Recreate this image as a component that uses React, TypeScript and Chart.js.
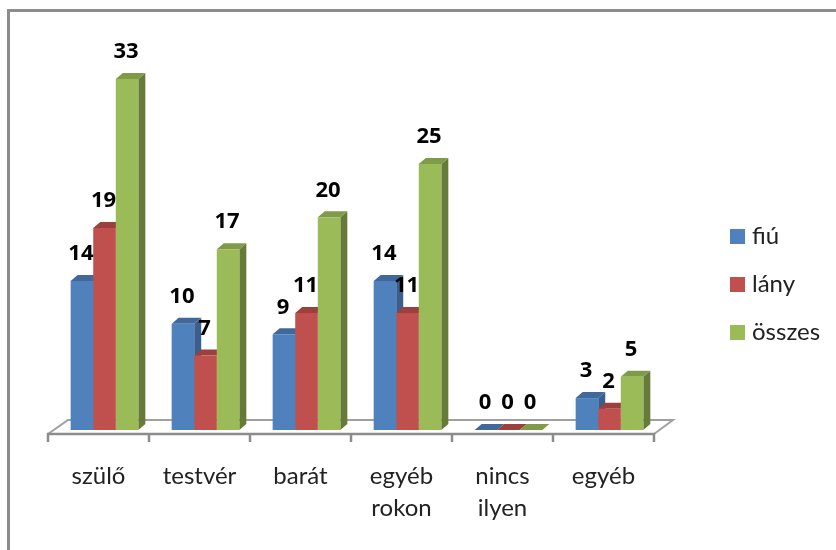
import React, { useEffect, useRef } from "react";
import { Chart, registerables } from "chart.js";

Chart.register(...registerables);

const categories: (string | string[])[] = ["szülő", "testvér", "barát", ["egyéb", "rokon"], ["nincs", "ilyen"], "egyéb"];
const fiu = [14, 10, 9, 14, 0, 3];
const lany = [19, 7, 11, 11, 0, 2];
const osszes = [33, 17, 20, 25, 0, 5];

const BLUE = ["#4F81BD", "#3A5F8C", "#41689A"];
const RED = ["#C0504D", "#8E3B39", "#9C403E"];
const GREEN = ["#9BBB59", "#667B3A", "#7F9A49"];
const palette = [BLUE, RED, GREEN];

const DX = 7;
const DY = 6;
const SHIFT = 6;

const poly = (ctx: CanvasRenderingContext2D, pts: number[][], fill: string) => {
  ctx.fillStyle = fill;
  ctx.beginPath();
  pts.forEach((p, i) => (i ? ctx.lineTo(p[0], p[1]) : ctx.moveTo(p[0], p[1])));
  ctx.closePath();
  ctx.fill();
};

const threeD = {
  id: "threeD",
  beforeDatasetsDraw(chart: any) {
    const { ctx, scales } = chart;
    const x = scales.x;
    const y0 = scales.y.getPixelForValue(0);
    const left = x.left - SHIFT;
    const right = x.right - SHIFT;
    ctx.save();
    ctx.strokeStyle = "#a0a0a0";
    ctx.lineWidth = 2;
    ctx.beginPath();
    ctx.moveTo(left, y0 + 4);
    ctx.lineTo(left + 20, y0 - 10);
    ctx.lineTo(right + 19, y0 - 10);
    ctx.lineTo(right, y0 + 4);
    ctx.stroke();
    ctx.strokeStyle = "#8c8c8c";
    ctx.lineWidth = 2.5;
    ctx.beginPath();
    ctx.moveTo(left - 1, y0 + 4);
    ctx.lineTo(right + 1, y0 + 4);
    for (let i = 0; i <= categories.length; i++) {
      const tx = left + (i * (right - left)) / categories.length;
      ctx.moveTo(tx, y0 + 3);
      ctx.lineTo(tx, y0 + 12);
    }
    ctx.stroke();
    // side and top faces, fiú first so later series overlap it; fronts are drawn by Chart.js
    chart.data.datasets.forEach((_: any, i: number) => {
      const colors = palette[i];
      chart.getDatasetMeta(i).data.forEach((bar: any) => {
        const { x: bx, y, base, width } = bar.getProps(["x", "y", "base", "width"], true);
        const l = bx - width / 2;
        const r = bx + width / 2;
        poly(ctx, [[r, y], [r + DX, y - DY], [r + DX, base - DY], [r, base]], colors[1]);
        poly(ctx, [[l, y], [l + DX, y - DY], [r + DX, y - DY], [r, y]], colors[2]);
      });
    });
    ctx.restore();
  },
  afterDatasetsDraw(chart: any) {
    const { ctx, chartArea } = chart;
    ctx.save();
    ctx.font = "bold 22px 'Open Sans'";
    ctx.fillStyle = "#000";
    ctx.textAlign = "center";
    ctx.textBaseline = "middle";
    chart.data.datasets.forEach((ds: any, i: number) => {
      chart.getDatasetMeta(i).data.forEach((bar: any, j: number) => {
        ctx.fillText(String(ds.data[j]), bar.x - 1, bar.y - 27);
      });
    });
    // legend
    ctx.font = "24px 'Lato'";
    ctx.textAlign = "left";
    const n = chart.data.datasets.length;
    const mid = chart.height / 2 + 9.5;
    chart.data.datasets.forEach((ds: any, i: number) => {
      const cy = mid + (i - (n - 1) / 2) * 48;
      const lx = chartArea.right + 70;
      ctx.fillStyle = ds.backgroundColor;
      ctx.fillRect(lx, cy - 7.5, 15, 15);
      ctx.fillStyle = "#222";
      ctx.fillText(ds.label, lx + 22, cy);
    });
    ctx.restore();
  },
};

export default function App() {
  const ref = useRef<HTMLCanvasElement>(null);
  useEffect(() => {
    document.body.style.margin = "0";
    const chart = new Chart(ref.current!, {
      type: "bar",
      plugins: [threeD],
      data: {
        labels: categories as any,
        datasets: [
          { label: "fiú", data: fiu, backgroundColor: BLUE[0] },
          { label: "lány", data: lany, backgroundColor: RED[0] },
          { label: "összes", data: osszes, backgroundColor: GREEN[0] },
        ],
      },
      options: {
        responsive: false,
        animation: false,
        layout: { padding: { left: 54, right: 176, top: 79, bottom: 0 } },
        datasets: { bar: { categoryPercentage: 0.67, barPercentage: 1 } },
        scales: {
          x: {
            grid: { display: false },
            border: { display: false },
            afterFit: (s: any) => {
              s.height = 120;
            },
            ticks: {
              labelOffset: -SHIFT,
              padding: 23,
              maxRotation: 0,
              autoSkip: false,
              color: "#222",
              font: { family: "Lato", size: 24, lineHeight: 1.3 },
            },
          },
          y: { display: false, min: 0, max: 33 },
        },
        plugins: {
          tooltip: { enabled: false },
          legend: { display: false },
        },
      },
    } as any);
    return () => chart.destroy();
  }, []);
  return (
    <div style={{ position: "relative", width: 836, height: 550, background: "#fff", overflow: "hidden" }}>
      <div style={{ position: "absolute", left: 7, top: 9, width: 840, height: 600, borderTop: "3px solid #8c8c8c", borderLeft: "3px solid #8c8c8c", boxSizing: "border-box" }} />
      <canvas ref={ref} width={836} height={550} style={{ position: "absolute", left: 0, top: 0 }} />
    </div>
  );
}
